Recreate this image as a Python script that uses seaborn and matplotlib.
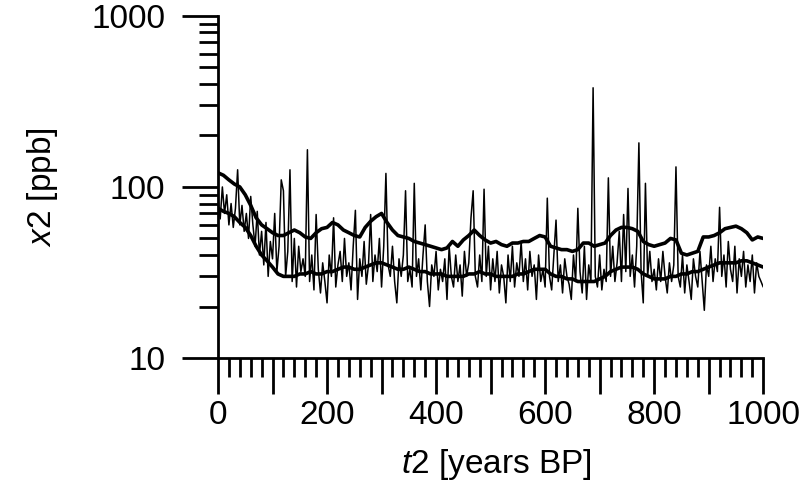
import numpy as np
import pandas as pd
import matplotlib
matplotlib.use("Agg")
import matplotlib.pyplot as plt
import matplotlib.ticker as mticker
import seaborn as sns

# %% data (years BP, ppb)
raw_t = np.arange(0, 1001, 4)
raw_v = [
    85, 65, 100, 70, 90, 60, 80, 58, 75, 126,
    60, 78, 55, 70, 50, 88, 60, 45, 72, 40,
    55, 35, 62, 30, 48, 38, 70, 32, 45, 110,
    95, 30, 42, 126, 28, 50, 26, 45, 32, 38,
    30, 165, 28, 40, 25, 69, 33, 24, 36, 28,
    21, 40, 30, 66, 26, 35, 42, 28, 50, 30,
    36, 25, 45, 73, 22, 38, 30, 48, 27, 35,
    69, 28, 40, 32, 50, 26, 45, 120, 35, 30,
    45, 28, 21, 38, 30, 40, 95, 28, 33, 26,
    105, 30, 38, 25, 40, 60, 28, 20, 35, 30,
    42, 25, 33, 28, 38, 22, 45, 30, 26, 40,
    28, 35, 23, 42, 30, 36, 66, 95, 30, 26,
    40, 28, 97, 30, 45, 25, 38, 28, 42, 24,
    35, 30, 21, 40, 28, 45, 26, 36, 30, 48,
    28, 38, 25, 42, 30, 35, 22, 40, 28, 33,
    26, 86, 30, 25, 40, 64, 28, 35, 24, 38,
    30, 27, 22, 40, 28, 75, 32, 24, 45, 22,
    35, 28, 380, 30, 26, 40, 25, 33, 28, 113,
    30, 45, 28, 36, 55, 28, 69, 32, 98, 30,
    40, 26, 45, 181, 32, 21, 105, 30, 42, 28,
    33, 25, 38, 28, 42, 30, 24, 36, 28, 35,
    131, 30, 26, 40, 24, 35, 28, 22, 38, 30,
    26, 42, 28, 19, 35, 30, 45, 28, 38, 32,
    76, 30, 40, 26, 48, 33, 28, 45, 24, 38,
    30, 42, 26, 35, 28, 40, 24, 36, 30, 28,
    26,
]

smooth_t = np.arange(0, 1001, 10)
upper_v = [
    121, 117, 110, 104, 100, 90, 78, 66, 60, 57,
    54, 52, 52, 54, 56, 54, 51, 50, 54, 57,
    58, 62, 60, 56, 54, 52, 51, 58, 63, 67,
    70, 62, 56, 52, 51, 50, 48, 47, 46, 45,
    44, 43, 44, 48, 45, 49, 52, 56, 52, 49,
    47, 48, 46, 45, 47, 47, 48, 48, 50, 52,
    51, 45, 44, 43, 43, 42, 43, 47, 47, 45,
    46, 47, 52, 56, 58, 58, 57, 55, 48, 46,
    45, 46, 47, 50, 49, 41, 40, 41, 42, 51,
    51, 52, 54, 57, 58, 59, 57, 54, 49, 51,
    50,
]
lower_v = [
    75, 72, 70, 67, 62, 58, 52, 45, 40, 37,
    34, 31, 30, 30, 30, 31, 31, 32, 31, 31,
    32, 32, 33, 34, 34, 33, 33, 34, 35, 36,
    36, 35, 34, 33, 33, 34, 33, 32, 32, 31,
    31, 31, 30, 30, 30, 30, 31, 31, 32, 31,
    31, 30, 30, 30, 30, 31, 31, 32, 33, 33,
    33, 31, 30, 30, 29, 29, 28, 28, 28, 28,
    29, 30, 32, 33, 34, 34, 34, 33, 31, 30,
    29, 29, 29, 30, 30, 31, 31, 32, 32, 33,
    34, 35, 36, 36, 36, 36, 37, 37, 36, 35,
    34,
]

raw = pd.DataFrame({"t": raw_t, "x": raw_v})
smooth = pd.DataFrame({"t": smooth_t, "upper": upper_v, "lower": lower_v})

# %% style
sns.set_style("ticks")
plt.rcParams["font.family"] = ["Liberation Sans", "DejaVu Sans"]
plt.rcParams["mathtext.fontset"] = "custom"
plt.rcParams["mathtext.rm"] = "Liberation Sans"
plt.rcParams["mathtext.it"] = "Liberation Sans:italic"
plt.rcParams["text.color"] = "black"
plt.rcParams["axes.labelcolor"] = "black"
plt.rcParams["xtick.color"] = "black"
plt.rcParams["ytick.color"] = "black"

fig, ax = plt.subplots(figsize=(8, 4.97), dpi=100)
fig.subplots_adjust(left=0.2725, right=0.954, bottom=0.2797, top=0.968)

# thin raw record plus the two smoothed curves
sns.lineplot(data=raw, x="t", y="x", color="black", linewidth=1.1, ax=ax)
sns.lineplot(data=smooth, x="t", y="upper", color="black", linewidth=2.6, ax=ax)
sns.lineplot(data=smooth, x="t", y="lower", color="black", linewidth=2.6, ax=ax)

ax.set_yscale("log")
ax.set_xlim(0, 1000)
ax.set_ylim(10, 1000)

ax.xaxis.set_major_locator(mticker.MultipleLocator(100))
ax.xaxis.set_minor_locator(mticker.MultipleLocator(20))
ax.xaxis.set_major_formatter(mticker.FuncFormatter(
    lambda v, p: f"{int(round(v))}" if int(round(v)) % 200 == 0 else ""))
ax.yaxis.set_major_locator(mticker.LogLocator(base=10))
ax.yaxis.set_minor_locator(mticker.LogLocator(base=10, subs=np.arange(2, 10)))
ax.yaxis.set_major_formatter(mticker.FuncFormatter(lambda v, p: f"{int(round(v))}"))
ax.yaxis.set_minor_formatter(mticker.NullFormatter())

sns.despine(ax=ax)
for s in ("left", "bottom"):
    ax.spines[s].set_linewidth(2.0)
    ax.spines[s].set_color("black")

ax.tick_params(which="major", length=26, width=2.0, color="black",
               labelcolor="black", labelsize=24)
ax.tick_params(which="minor", length=13.5, width=2.0, color="black")
ax.tick_params(axis="x", which="major", pad=4)
ax.tick_params(axis="y", which="major", pad=12)

ax.set_xlabel("$t$2 [years BP]", fontsize=24, color="black")
ax.set_ylabel("$x$2 [ppb]", fontsize=24, color="black")
ax.xaxis.set_label_coords(0.51, -0.26)
ax.yaxis.set_label_coords(-0.29, 0.5)

fig.savefig("out.png", dpi=100)
